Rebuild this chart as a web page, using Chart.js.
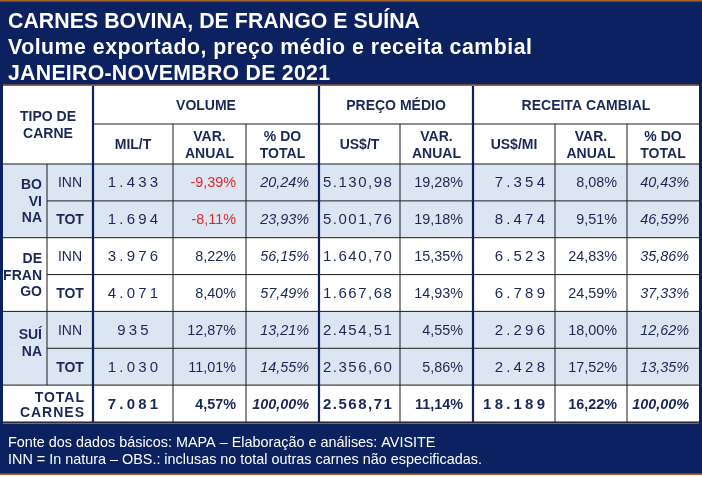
<!DOCTYPE html>
<html>
<head>
<meta charset="utf-8">
<script src="https://cdn.jsdelivr.net/npm/chart.js@4/dist/chart.umd.min.js"></script>
<style>
  html, body { margin: 0; padding: 0; background: #fff; }
  #wrap { width: 702px; height: 477px; }
</style>
</head>
<body>
<div id="wrap"><canvas id="tabela" width="702" height="477"></canvas></div>
<script>
// titulo e rodape
const tituloLinhas = [
    "CARNES BOVINA, DE FRANGO E SUÍNA",
    "Volume exportado, preço médio e receita cambial",
    "JANEIRO-NOVEMBRO DE 2021"
];
const rodapeLinhas = [
    "Fonte dos dados básicos: MAPA – Elaboração e análises: AVISITE",
    "INN = In natura – OBS.: inclusas no total outras carnes não especificadas."
];

// cabecalhos
const grupos = ["VOLUME", "PREÇO MÉDIO", "RECEITA CAMBIAL"];
const subColunas = [["MIL/T"], ["VAR.", "ANUAL"], ["% DO", "TOTAL"], ["US$/T"], ["VAR.", "ANUAL"], ["US$/MI"], ["VAR.", "ANUAL"], ["% DO", "TOTAL"]];

// categorias
const tiposCarne = [["BO", "VI", "NA"], ["DE", "FRAN", "GO"], ["SUÍ", "NA"]];
const tiposLinha = ["INN", "TOT"];
const totalLabel = ["TOTAL", "CARNES"];

// valores (6 linhas de carne + total)
const volumeMilT = [1433, 1694, 3976, 4071, 935, 1030, 7081];
const volumeVar = [-9.39, -8.11, 8.22, 8.40, 12.87, 11.01, 4.57];
const volumePart = [20.24, 23.93, 56.15, 57.49, 13.21, 14.55, 100.00];
const precoUsdT = [5130.98, 5001.76, 1640.70, 1667.68, 2454.51, 2356.60, 2568.71];
const precoVar = [19.28, 19.18, 15.35, 14.93, 4.55, 5.86, 11.14];
const receitaUsdMi = [7354, 8474, 6523, 6789, 2296, 2428, 18189];
const receitaVar = [8.08, 9.51, 24.83, 24.59, 18.00, 17.52, 16.22];
const receitaPart = [40.43, 46.59, 35.86, 37.33, 12.62, 13.35, 100.00];

// layout (unidades da escala)
const COL = [3, 47, 93, 173, 246, 319, 400, 473, 555, 627, 699];
const ROW = [86, 124, 164, 200.9, 237.7, 274.6, 311.4, 348.3, 385.1, 422];
const larguraTitulo = [412, 524, 322];

const NAVY = '#0b2160';
const MARROM = '#a3612c';
const AZUL_CLARO = '#dce6f2';
const TEXTO = '#1a2858';
const VERMELHO = '#e3262e';
const FONTE = "'Liberation Sans', Arial, sans-serif";

function fmt(v, dec) {
    const s = Math.abs(v).toFixed(dec);
    let [int, frac] = s.split('.');
    int = int.replace(/\B(?=(\d{3})+(?!\d))/g, '.');
    return (v < 0 ? '-' : '') + int + (frac ? ',' + frac : '');
}

const colunas = [
    { valores: volumeMilT, dec: 0, col: 2, align: 'center', esp: 3.2, tam: 15 },
    { valores: volumeVar, dec: 2, col: 3, align: 'right', pct: true },
    { valores: volumePart, dec: 2, col: 4, align: 'right', pct: true, italico: true },
    { valores: precoUsdT, dec: 2, col: 5, align: 'left', esp: 1.5, tam: 15 },
    { valores: precoVar, dec: 2, col: 6, align: 'right', pct: true },
    { valores: receitaUsdMi, dec: 0, col: 7, align: 'right', esp: 3.2, tam: 15 },
    { valores: receitaVar, dec: 2, col: 8, align: 'right', pct: true },
    { valores: receitaPart, dec: 2, col: 9, align: 'right', pct: true, italico: true }
];

function ancoraX(c) {
    if (c.align === 'center') return (COL[c.col] + COL[c.col + 1]) / 2;
    if (c.align === 'left') return COL[c.col] + 4;
    return COL[c.col + 1] - 10 + (c.esp || 0);
}
function centroLinha(i) {
    return (ROW[i + 2] + ROW[i + 3]) / 2;
}

const datasets = colunas.map(c => ({
    label: subColunas[c.col - 2].join(' '),
    data: c.valores.map((v, i) => ({ x: ancoraX(c), y: centroLinha(i), v: v })),
    pointRadius: 0,
    pointHoverRadius: 0
}));

const tabelaPlugin = {
    id: 'tabela',
    beforeDatasetsDraw(chart) {
        const ctx = chart.ctx;
        const xs = chart.scales.x, ys = chart.scales.y;
        const px = v => xs.getPixelForValue(v);
        const py = v => ys.getPixelForValue(v);
        const rect = (x0, y0, x1, y1, cor) => {
            ctx.fillStyle = cor;
            ctx.fillRect(px(x0), py(y0), px(x1) - px(x0), py(y1) - py(y0));
        };
        const hLine = (x0, x1, y, cor, w) => {
            ctx.strokeStyle = cor; ctx.lineWidth = w;
            ctx.beginPath(); ctx.moveTo(px(x0), py(y)); ctx.lineTo(px(x1), py(y)); ctx.stroke();
        };
        const vLine = (x, y0, y1, cor, w) => {
            ctx.strokeStyle = cor; ctx.lineWidth = w;
            ctx.beginPath(); ctx.moveTo(px(x), py(y0)); ctx.lineTo(px(x), py(y1)); ctx.stroke();
        };
        const texto = (t, x, y, align, font, cor) => {
            ctx.font = font; ctx.fillStyle = cor; ctx.textAlign = align;
            ctx.textBaseline = 'alphabetic';
            ctx.fillText(t, px(x), py(y));
        };

        ctx.save();
        // moldura
        rect(0, 0, 702, 477, '#ffffff');
        rect(0, 1, 702, 474, NAVY);
        rect(0, 0, 702, 1.6, MARROM);
        rect(COL[0], ROW[0], COL[10], ROW[9], '#ffffff');
        rect(COL[0], 84.4, COL[10], ROW[0], MARROM);
        rect(COL[0], ROW[9] + 0.6, COL[10], 424, MARROM);
        rect(0, 473.4, 702, 475, MARROM);

        // linhas sombreadas
        for (let i = 0; i < 6; i++) {
            const g = Math.floor(i / 2);
            if (g % 2 === 0) rect(COL[0], ROW[i + 2], COL[10], ROW[i + 3], AZUL_CLARO);
        }

        // grade
        const preto = '#1b1b1b';
        hLine(COL[2], COL[10], ROW[1], preto, 1);
        hLine(COL[0], COL[10], ROW[2], preto, 1);
        for (let i = 0; i < 6; i++) {
            const y = ROW[i + 3];
            if (i % 2 === 0) hLine(COL[1], COL[10], y, preto, 1);
            else hLine(COL[0], COL[10], y, preto, 1);
        }
        hLine(COL[0], COL[10], ROW[9], preto, 1);
        vLine(COL[1], ROW[2], ROW[8], preto, 1);
        [3, 4, 6, 8, 9].forEach(c => vLine(COL[c], ROW[1], ROW[9], preto, 1));
        [2, 5, 7].forEach(c => vLine(COL[c], ROW[0], ROW[9], NAVY, 2.2));

        // titulo (ajustado a largura do original)
        tituloLinhas.forEach((t, i) => {
            ctx.font = 'bold 21.3px ' + FONTE;
            ctx.letterSpacing = '0px';
            const w = ctx.measureText(t).width;
            ctx.letterSpacing = Math.max(0, (larguraTitulo[i] - w) / (t.length - 1)) + 'px';
            texto(t, 8, 28 + i * 26, 'left', 'bold 21.3px ' + FONTE, '#ffffff');
        });
        ctx.letterSpacing = '0px';
        // rodape
        rodapeLinhas.forEach((t, i) => texto(t, 8, 446.5 + i * 17.5, 'left', '14.4px ' + FONTE, '#ffffff'));

        // cabecalhos
        const fh = 'bold 14px ' + FONTE;
        texto("TIPO DE", (COL[0] + COL[2]) / 2, 121, 'center', fh, TEXTO);
        texto("CARNE", (COL[0] + COL[2]) / 2, 138, 'center', fh, TEXTO);
        grupos.forEach((g, i) => {
            const c0 = [2, 5, 7][i], c1 = [5, 7, 10][i];
            texto(g, (COL[c0] + COL[c1]) / 2, 110, 'center', fh, TEXTO);
        });
        subColunas.forEach((linhas, i) => {
            const cx = (COL[i + 2] + COL[i + 3]) / 2;
            const y0 = linhas.length === 1 ? 149 : 140.5;
            linhas.forEach((t, k) => texto(t, cx, y0 + k * 17, 'center', fh, TEXTO));
        });

        // rotulos de linha
        tiposCarne.forEach((partes, g) => {
            const yc = (ROW[2 + g * 2] + ROW[4 + g * 2]) / 2 - (partes.length === 2 ? 6 : 0);
            const y0 = yc - (partes.length - 1) * 8.3;
            partes.forEach((t, k) => texto(t, COL[1] - 5, y0 + k * 16.6 + 5, 'right', fh, TEXTO));
            tiposLinha.forEach((t, k) => {
                const font = (k === 1 ? 'bold ' : '') + '14px ' + FONTE;
                texto(t, (COL[1] + COL[2]) / 2, centroLinha(g * 2 + k) + 5, 'center', font, TEXTO);
            });
        });
        ctx.letterSpacing = '1px';
        texto(totalLabel[0], COL[2] - 8, 402, 'right', fh, TEXTO);
        texto(totalLabel[1], COL[2] - 8, 417, 'right', fh, TEXTO);
        ctx.letterSpacing = '0px';
        ctx.restore();
    },
    afterDatasetsDraw(chart) {
        const ctx = chart.ctx;
        ctx.save();
        chart.data.datasets.forEach((ds, di) => {
            const c = colunas[di];
            const meta = chart.getDatasetMeta(di);
            meta.data.forEach((el, i) => {
                const v = ds.data[i].v;
                const total = i === ds.data.length - 1;
                let font = (c.tam || 14.4) + 'px ' + FONTE;
                if (c.italico) font = 'italic ' + font;
                if (total) font = 'bold ' + font;
                ctx.font = font;
                ctx.letterSpacing = (c.esp || 0) + 'px';
                ctx.fillStyle = (c.pct && !c.italico && v < 0) ? VERMELHO : TEXTO;
                ctx.textAlign = c.align;
                ctx.textBaseline = 'alphabetic';
                const t = fmt(v, c.dec) + (c.pct ? '%' : '');
                ctx.fillText(t, el.x + (c.align === 'center' ? (c.esp || 0) / 2 : 0), el.y + 5);
            });
        });
        ctx.letterSpacing = '0px';
        ctx.restore();
    }
};

new Chart(document.getElementById('tabela').getContext('2d'), {
    type: 'scatter',
    data: { datasets: datasets },
    options: {
        responsive: false,
        animation: false,
        devicePixelRatio: 1,
        layout: { padding: 0 },
        events: [],
        plugins: { legend: { display: false }, tooltip: { enabled: false } },
        scales: {
            x: { type: 'linear', min: 0, max: 702, display: false },
            y: { type: 'linear', min: 0, max: 477, reverse: true, display: false }
        }
    },
    plugins: [tabelaPlugin]
});
</script>
</body>
</html>
